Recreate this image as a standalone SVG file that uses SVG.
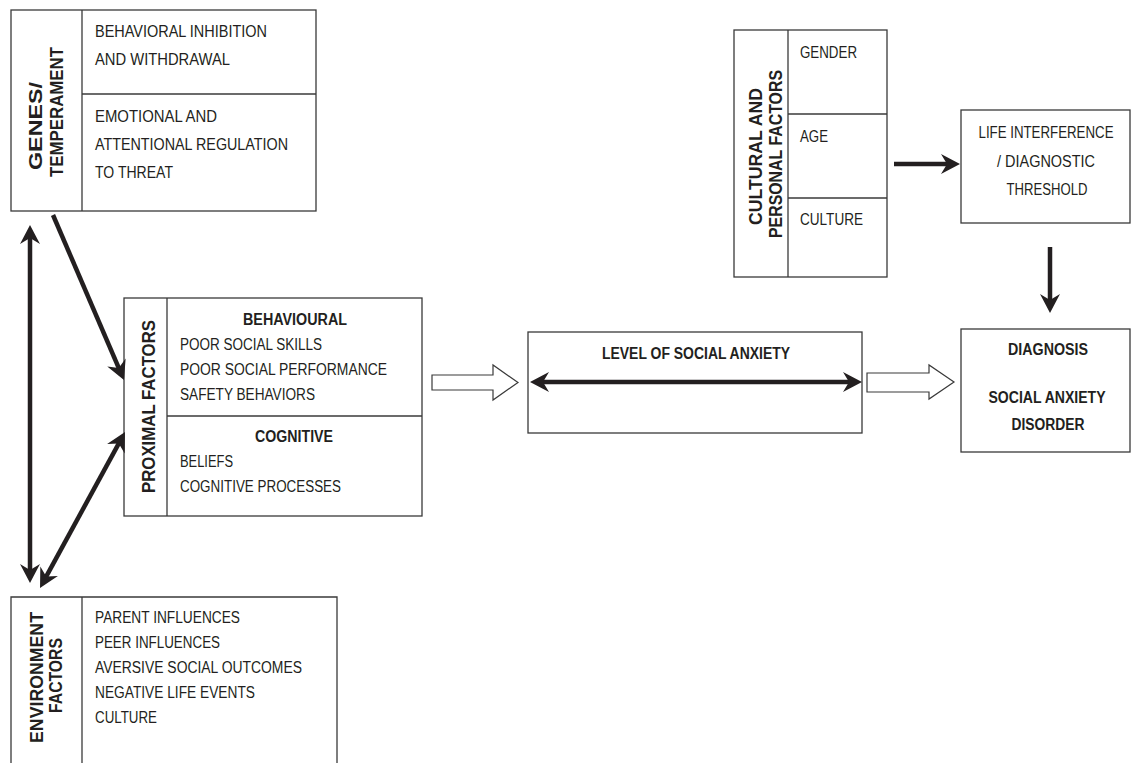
<svg xmlns="http://www.w3.org/2000/svg" width="1131" height="763" viewBox="0 0 1131 763">
<style>
.box{fill:#fff;stroke:#3a3a3a;stroke-width:1.3}
.ln{stroke:#3a3a3a;stroke-width:1.3;fill:none}
.t{font-family:"Liberation Sans",Arial,sans-serif;font-size:16px;fill:#231f20}
.r{font-size:18px}
.b{font-weight:bold}
.m{text-anchor:middle}
.arr{stroke:#231f20;stroke-width:4.5;fill:none}
.hollow{fill:#fff;stroke:#3a3a3a;stroke-width:1.2}
</style>
<defs>
<marker id="ah" markerUnits="userSpaceOnUse" viewBox="-12 -12 24 24" markerWidth="24" markerHeight="24" refX="0" refY="0" orient="auto-start-reverse">
<path d="M10,0 L-9,-10 L-3,0 L-9,10 Z" fill="#231f20"/>
</marker>
</defs>
<rect width="1131" height="763" fill="#fff"/>

<g id="genes">
<rect class="box" x="11" y="10" width="305" height="201"/>
<line class="ln" x1="82" y1="10" x2="82" y2="211"/>
<line class="ln" x1="82" y1="94" x2="316" y2="94"/>
<text class="t r b m" transform="translate(42,126) rotate(-90)" textLength="88" lengthAdjust="spacingAndGlyphs">GENES/</text>
<text class="t r b m" transform="translate(63,112) rotate(-90)" textLength="130" lengthAdjust="spacingAndGlyphs">TEMPERAMENT</text>
<text class="t" x="95" y="37" textLength="172" lengthAdjust="spacingAndGlyphs">BEHAVIORAL INHIBITION</text>
<text class="t" x="95" y="65" textLength="135" lengthAdjust="spacingAndGlyphs">AND WITHDRAWAL</text>
<text class="t" x="95" y="122" textLength="122" lengthAdjust="spacingAndGlyphs">EMOTIONAL AND</text>
<text class="t" x="95" y="150" textLength="193" lengthAdjust="spacingAndGlyphs">ATTENTIONAL REGULATION</text>
<text class="t" x="95" y="178" textLength="78" lengthAdjust="spacingAndGlyphs">TO THREAT</text>
</g>

<g id="proximal">
<rect class="box" x="124" y="298" width="298" height="218"/>
<line class="ln" x1="167" y1="298" x2="167" y2="516"/>
<line class="ln" x1="167" y1="416" x2="422" y2="416"/>
<text class="t r b m" transform="translate(155,406.5) rotate(-90)" textLength="173" lengthAdjust="spacingAndGlyphs">PROXIMAL FACTORS</text>
<text class="t b m" x="295" y="325" textLength="104" lengthAdjust="spacingAndGlyphs">BEHAVIOURAL</text>
<text class="t" x="180" y="350" textLength="142" lengthAdjust="spacingAndGlyphs">POOR SOCIAL SKILLS</text>
<text class="t" x="180" y="375" textLength="207" lengthAdjust="spacingAndGlyphs">POOR SOCIAL PERFORMANCE</text>
<text class="t" x="180" y="400" textLength="135" lengthAdjust="spacingAndGlyphs">SAFETY BEHAVIORS</text>
<text class="t b m" x="294" y="442" textLength="78" lengthAdjust="spacingAndGlyphs">COGNITIVE</text>
<text class="t" x="180" y="467" textLength="53" lengthAdjust="spacingAndGlyphs">BELIEFS</text>
<text class="t" x="180" y="492" textLength="161" lengthAdjust="spacingAndGlyphs">COGNITIVE PROCESSES</text>
</g>

<g id="environment">
<rect x="11" y="597" width="326" height="170" fill="#fff"/>
<path class="ln" d="M11,763 V597 H337 V763"/>
<line class="ln" x1="82" y1="597" x2="82" y2="763"/>
<text class="t r b m" transform="translate(43,677.5) rotate(-90)" textLength="131" lengthAdjust="spacingAndGlyphs">ENVIRONMENT</text>
<text class="t r b m" transform="translate(62,675.5) rotate(-90)" textLength="75" lengthAdjust="spacingAndGlyphs">FACTORS</text>
<text class="t" x="95" y="623" textLength="145" lengthAdjust="spacingAndGlyphs">PARENT INFLUENCES</text>
<text class="t" x="95" y="648" textLength="125" lengthAdjust="spacingAndGlyphs">PEER INFLUENCES</text>
<text class="t" x="95" y="673" textLength="207" lengthAdjust="spacingAndGlyphs">AVERSIVE SOCIAL OUTCOMES</text>
<text class="t" x="95" y="698" textLength="160" lengthAdjust="spacingAndGlyphs">NEGATIVE LIFE EVENTS</text>
<text class="t" x="95" y="723" textLength="62" lengthAdjust="spacingAndGlyphs">CULTURE</text>
</g>

<g id="level">
<rect class="box" x="528" y="332" width="334" height="101"/>
<text class="t b m" x="696" y="359" textLength="188" lengthAdjust="spacingAndGlyphs">LEVEL OF SOCIAL ANXIETY</text>
</g>

<g id="cultural">
<rect class="box" x="734" y="30" width="153" height="247"/>
<line class="ln" x1="788" y1="30" x2="788" y2="277"/>
<line class="ln" x1="788" y1="114" x2="887" y2="114"/>
<line class="ln" x1="788" y1="198" x2="887" y2="198"/>
<text class="t r b m" transform="translate(762,156.5) rotate(-90)" textLength="137" lengthAdjust="spacingAndGlyphs">CULTURAL AND</text>
<text class="t r b m" transform="translate(782,154) rotate(-90)" textLength="168" lengthAdjust="spacingAndGlyphs">PERSONAL FACTORS</text>
<text class="t" x="800" y="58" textLength="57" lengthAdjust="spacingAndGlyphs">GENDER</text>
<text class="t" x="800" y="142" textLength="28" lengthAdjust="spacingAndGlyphs">AGE</text>
<text class="t" x="800" y="225" textLength="63" lengthAdjust="spacingAndGlyphs">CULTURE</text>
</g>

<g id="life">
<rect class="box" x="961" y="110" width="169" height="113"/>
<text class="t m" x="1046" y="138" textLength="135" lengthAdjust="spacingAndGlyphs">LIFE INTERFERENCE</text>
<text class="t m" x="1046" y="167" textLength="98" lengthAdjust="spacingAndGlyphs">/ DIAGNOSTIC</text>
<text class="t m" x="1047" y="195" textLength="81" lengthAdjust="spacingAndGlyphs">THRESHOLD</text>
</g>

<g id="diagnosis">
<rect class="box" x="961" y="329" width="169" height="123"/>
<text class="t b m" x="1048" y="355" textLength="80" lengthAdjust="spacingAndGlyphs">DIAGNOSIS</text>
<text class="t b m" x="1047" y="403" textLength="117" lengthAdjust="spacingAndGlyphs">SOCIAL ANXIETY</text>
<text class="t b m" x="1048" y="430" textLength="73" lengthAdjust="spacingAndGlyphs">DISORDER</text>
</g>

<g id="connectors">
<line class="arr" x1="30" y1="235" x2="30" y2="573" marker-start="url(#ah)" marker-end="url(#ah)"/>
<line class="arr" x1="53" y1="215" x2="120" y2="370.8" marker-end="url(#ah)"/>
<line class="arr" x1="44.8" y1="579.2" x2="120.2" y2="440.8" marker-start="url(#ah)" marker-end="url(#ah)"/>
<line class="arr" x1="540" y1="382" x2="852" y2="382" marker-start="url(#ah)" marker-end="url(#ah)"/>
<line class="arr" x1="894" y1="164" x2="950" y2="164" marker-end="url(#ah)"/>
<line class="arr" x1="1050" y1="247" x2="1050" y2="303" marker-end="url(#ah)"/>
<polygon class="hollow" points="432,375 493,375 493,365 518,382.5 493,400 493,390 432,390"/>
<polygon class="hollow" points="867,373 929,373 929,365 954,382 929,399 929,392 867,392"/>
</g>
</svg>
